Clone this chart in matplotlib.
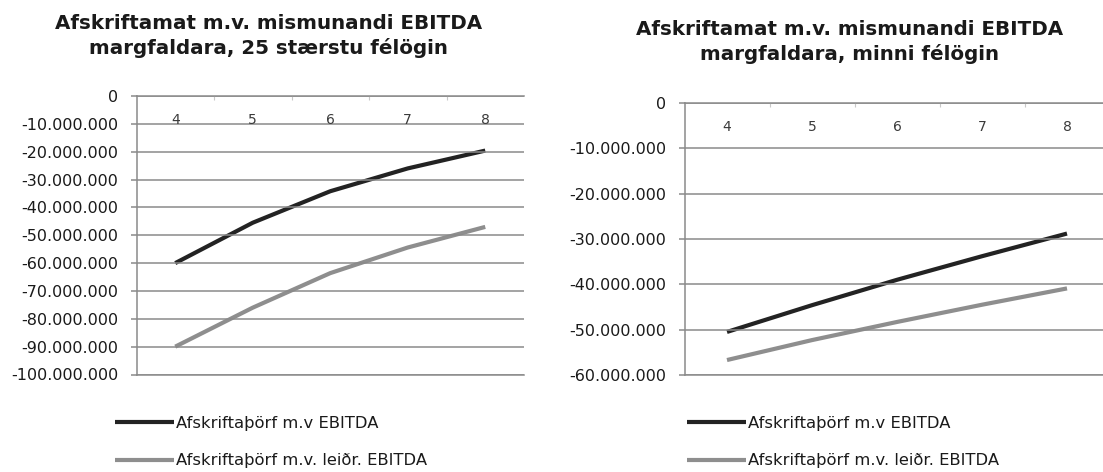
import numpy as np
import matplotlib.pyplot as plt
from matplotlib.ticker import FuncFormatter

# EBITDA multiples on the category axis
margfaldarar = [4, 5, 6, 7, 8]

# 25 largest companies
staerstu_ebitda = [-60000000, -45500000, -34200000, -26000000, -19600000]
staerstu_leidr = [-90000000, -76000000, -63600000, -54400000, -47000000]

# smaller companies
minni_ebitda = [-50500000, -44600000, -39000000, -33800000, -28800000]
minni_leidr = [-56700000, -52300000, -48300000, -44500000, -40900000]

heiti_ebitda = 'Afskriftaþörf m.v EBITDA'
heiti_leidr = 'Afskriftaþörf m.v. leiðr. EBITDA'

titill_vinstri = 'Afskriftamat m.v. mismunandi EBITDA\nmargfaldara, 25 stærstu félögin'
titill_haegri = 'Afskriftamat m.v. mismunandi EBITDA\nmargfaldara, minni félögin'

grar = '#8a8a8a'
svartur_litur = '#232323'
ljos_litur = '#8e8e8e'

plt.rcParams['font.family'] = 'DejaVu Sans'

W, H = 1103, 472
fig = plt.figure(figsize=(W / 100, H / 100), dpi=100)


def thousands(v, pos):
    return '{:,}'.format(int(round(v))).replace(',', '.')


def teikna(ax, lina1, lina2, ymin, xmax):
    ax.plot(margfaldarar, lina1, color=svartur_litur, lw=3.0,
            solid_capstyle='butt', zorder=2, label=heiti_ebitda)
    ax.plot(margfaldarar, lina2, color=ljos_litur, lw=3.0,
            solid_capstyle='butt', zorder=2, label=heiti_leidr)
    ax.set_xlim(3.5, xmax)
    ax.set_ylim(ymin, 0)
    ax.set_yticks(np.arange(ymin, 1, 10000000))
    ax.yaxis.set_major_formatter(FuncFormatter(thousands))
    ax.grid(axis='y', color=grar, lw=1.1)
    ax.set_axisbelow(False)
    for s in ['left', 'top', 'bottom']:
        ax.spines[s].set_color(grar)
        ax.spines[s].set_linewidth(1.1)
    ax.spines['right'].set_visible(False)
    ax.tick_params(axis='y', direction='out', length=4, width=1.1,
                   color=grar, pad=9, labelsize=11.5, labelcolor='#1a1a1a')
    # category separators on the zero line
    ax.xaxis.set_ticks_position('top')
    ax.set_xticks(np.arange(4.5, 8.5, 1.0))
    ax.tick_params(axis='x', direction='in', length=3, width=0.8,
                   color='#c8c8c8', labeltop=False, labelbottom=False)
    for m in margfaldarar:
        ax.annotate(str(m), (m, 0), xytext=(0, -17), textcoords='offset points',
                    ha='center', va='center', fontsize=10, color='#3a3a3a')


ax1 = fig.add_axes([136.5 / W, 1 - 374.5 / H, 387.5 / W, 278.5 / H])
teikna(ax1, staerstu_ebitda, staerstu_leidr, -100000000, 8.5)

ax2 = fig.add_axes([684.5 / W, 1 - 375 / H, 425 / W, 272 / H])
teikna(ax2, minni_ebitda, minni_leidr, -60000000, 8.5)

fig.text(268.5 / W, 1 - 36 / H, titill_vinstri, ha='center', va='center',
         fontsize=14.3, fontweight='bold', color='#1a1a1a', linespacing=1.3)
fig.text(850 / W, 1 - 42 / H, titill_haegri, ha='center', va='center',
         fontsize=14.3, fontweight='bold', color='#1a1a1a', linespacing=1.3)

for ax, x0 in [(ax1, 115), (ax2, 687)]:
    ax.legend(loc='center left', bbox_to_anchor=(x0 / W, 1 - 442 / H),
              bbox_transform=fig.transFigure, frameon=False, fontsize=11.8,
              handlelength=3.6, handletextpad=0.1, labelspacing=1.4,
              borderpad=0, borderaxespad=0, labelcolor='#1a1a1a')

fig.savefig('out.png', dpi=100, facecolor='white')
